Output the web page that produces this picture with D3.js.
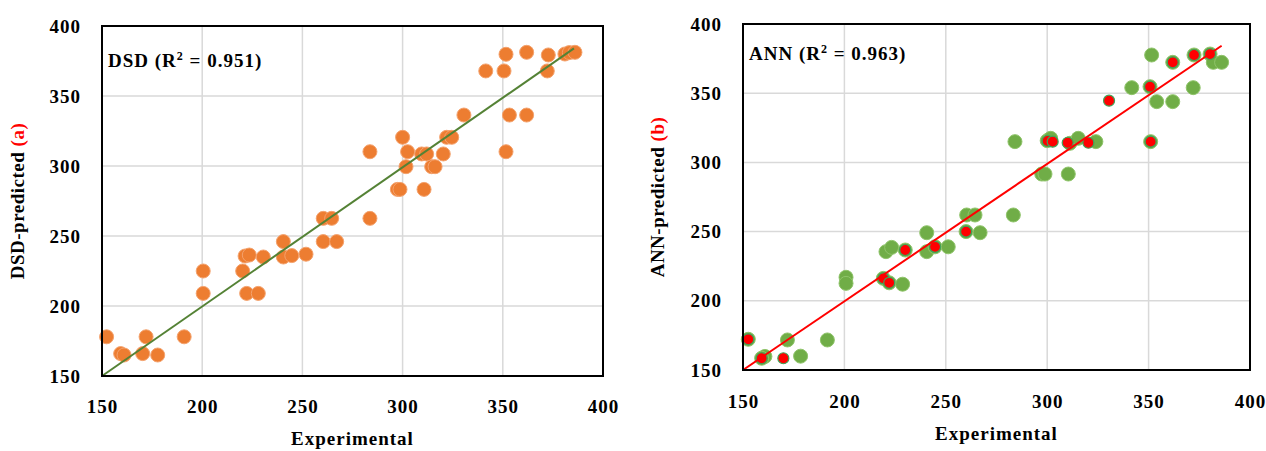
<!DOCTYPE html>
<html lang="en">
<head>
  <meta charset="UTF-8">
  <title>DSD vs ANN</title>
  <script src="https://cdn.jsdelivr.net/npm/d3@7"></script>
  <style>
    body { margin: 0; background: #fff; }
    text { font-family: "Liberation Serif", serif; font-weight: bold; fill: #000; letter-spacing: 1px; }
  </style>
</head>
<body>
<div id="grafica"></div>
<script>
// datos
ticks = [150, 200, 250, 300, 350, 400]

dsdExp  = [152.3,159.3,161,170.3,172,177.8,191,200.5,200.5,220.2,221.4,223.5,222.2,228,230.5,240.5,240.5,244.7,251.8,260.4,267.1,260.4,264.6,283.7,297.4,298.7,310.7,301.7,314.5,316.2,283.7,302.5,309.5,312,320.3,300,322,324.5,330.6,351.6,353.3,361.9,341.5,350.6,351.6,361.9,372.7,372.2,381,383.2,386]
dsdPred = [178,166,165,166,178,165,178,225,209,225,235.7,236.4,209,209,235,246,235,236,237,246,246,262.6,262.6,262.6,283.3,283.3,283.3,299.5,299.5,299.5,310.2,310.2,308.6,308.6,308.6,320.5,320.5,320.5,336.4,310.2,336.4,336.4,367.9,367.9,379.8,381.2,379.3,367.9,380,381,381.2]
dsdFit  = [[150, 150], [385.5, 384]]

annExp  = [152.6,160.8,159.2,171.9,178.4,191.6,200.8,200.8,219.2,222.1,228.7,220.5,223.3,230,240.6,240.6,244.7,251.2,260,266.9,260.3,264.4,283.3,284.1,297.3,298.9,310.4,300,301.7,311.2,315.3,324,341.7,350.7,354,361.9,351,351.5,361.9,372,372.4,380.3,381.9,386]
annPred = [172.2,159.8,158.5,171.7,160,171.7,217,212.6,216.2,213,212,235.5,238.6,236.7,249.2,235.5,239,239,250,249.2,262,262,262,315,291.6,291.6,291.6,315.7,317.4,313.8,317.4,315,354,354.7,343.9,343.9,315,377.6,372.3,354,377.6,378.3,372.3,372.3]
annRedExp  = [152.6,159.2,169.9,219.2,222.1,230,244.7,260,300.2,302.7,310.1,320.3,330.5,350.7,351,361.9,372.4,380.3]
annRedPred = [172.2,158.5,158.5,216.2,213,236.7,239,250,315.5,315,314.2,314.2,344.6,354.7,315,372.3,377.6,378.3]
annFit  = [[150, 150], [386, 384.3]]

svg = d3.select('#grafica')
  .append('svg')
  .attr('width', 1266)
  .attr('height', 451)

function panel(p) {
  x = d3.scaleLinear().domain([150, 400]).range([p.left, p.right])
  y = d3.scaleLinear().domain([150, 400]).range([p.bottom, p.top])

  g = svg.append('g')

  // rejilla
  g.append('g').selectAll('line').data(ticks.slice(1, -1)).enter().append('line')
    .attr('x1', d => x(d)).attr('x2', d => x(d))
    .attr('y1', p.top).attr('y2', p.bottom)
    .attr('stroke', '#d9d9d9').attr('stroke-width', 1.5)
  g.append('g').selectAll('line').data(ticks.slice(1, -1)).enter().append('line')
    .attr('y1', d => y(d)).attr('y2', d => y(d))
    .attr('x1', p.left).attr('x2', p.right)
    .attr('stroke', '#d9d9d9').attr('stroke-width', 1.5)

  // ejes
  g.append('g')
    .attr('transform', `translate(0, ${p.bottom})`)
    .call(d3.axisBottom(x).tickValues(ticks).tickSize(0).tickPadding(p.xPad))
  g.append('g')
    .attr('transform', `translate(${p.left}, 0)`)
    .call(d3.axisLeft(y).tickValues(ticks).tickSize(0).tickPadding(21))
  g.selectAll('.domain').remove()
  g.selectAll('.tick text')
    .style('font-family', '"Liberation Serif", serif')
    .style('font-weight', 'bold')
    .style('font-size', '19px')
    .attr('fill', '#000')

  // puntos
  g.append('g').selectAll('circle').data(p.ex).enter().append('circle')
    .attr('cx', d => x(d))
    .attr('cy', (d, i) => y(p.pr[i]))
    .attr('r', 7)
    .attr('fill', p.color)
    .attr('stroke', p.edge)
    .attr('stroke-width', 1)

  if (p.rex) {
    g.append('g').selectAll('circle').data(p.rex).enter().append('circle')
      .attr('cx', d => x(d))
      .attr('cy', (d, i) => y(p.rpr[i]))
      .attr('r', 5.5)
      .attr('fill', '#ff0000')
      .attr('stroke', '#3fa55a')
      .attr('stroke-width', 1.2)
  }

  // linea de ajuste
  g.append('line')
    .attr('x1', x(p.fit[0][0])).attr('y1', y(p.fit[0][1]))
    .attr('x2', x(p.fit[1][0])).attr('y2', y(p.fit[1][1]))
    .attr('stroke', p.lineColor).attr('stroke-width', 2)

  // marco
  g.append('rect')
    .attr('x', p.left).attr('y', p.top)
    .attr('width', p.right - p.left).attr('height', p.bottom - p.top)
    .attr('fill', 'none').attr('stroke', '#000').attr('stroke-width', 2)

  // anotacion
  t = g.append('text')
    .attr('x', p.left + 6).attr('y', p.annY)
    .style('font-size', '19px')
  t.append('tspan').text(p.name + ' (R')
  t.append('tspan').text('2').style('font-size', '12px').attr('dy', -7)
  t.append('tspan').text(' = ' + p.r2 + ')').attr('dy', 7)

  // titulos
  g.append('text')
    .attr('x', (p.left + p.right) / 2).attr('y', p.xTitleY)
    .attr('text-anchor', 'middle')
    .style('font-size', '19px')
    .text('Experimental')

  yt = g.append('text')
    .attr('transform', `translate(${p.yTitleX}, ${(p.top + p.bottom) / 2}) rotate(-90)`)
    .attr('text-anchor', 'middle')
    .style('font-size', '19px')
    .style('letter-spacing', '0.5px')
  yt.append('tspan').text(p.name + '-predicted ')
  yt.append('tspan').text(p.tag).style('fill', '#ff0000')
}

panel({
  left: 102, right: 603, top: 26, bottom: 376, xPad: 24,
  ex: dsdExp, pr: dsdPred, fit: dsdFit,
  color: '#ed7d31', edge: '#f4a26d', lineColor: '#548235',
  name: 'DSD', r2: '0.951', tag: '(a)',
  annY: 67, xTitleY: 445, yTitleX: 24
})

panel({
  left: 743, right: 1250, top: 24, bottom: 370, xPad: 25,
  ex: annExp, pr: annPred, fit: annFit,
  rex: annRedExp, rpr: annRedPred,
  color: '#70ad47', edge: '#8fc46a', lineColor: '#ff0000',
  name: 'ANN', r2: '0.963', tag: '(b)',
  annY: 60, xTitleY: 440, yTitleX: 664
})
</script>
</body>
</html>
